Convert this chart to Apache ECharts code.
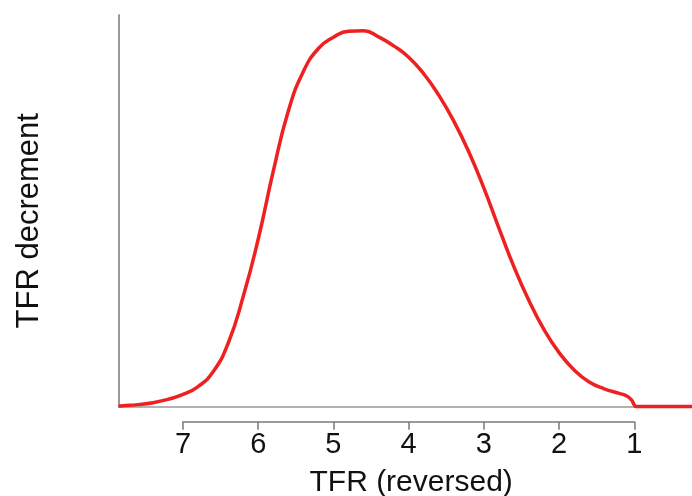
<!DOCTYPE html>
<html>
<head>
<meta charset="utf-8">
<script src="https://cdn.jsdelivr.net/npm/echarts@6/dist/echarts.min.js"></script>
<style>html,body{margin:0;padding:0;background:#fff;}#chart{width:692px;height:496px;}</style>
</head>
<body>
<div id="chart"></div>
<script>
// TFR values (descending, as plotted left to right) and relative TFR decrement (peak = 1)
var tfr = [7.858, 7.8, 7.6, 7.4, 7.2, 7.0, 6.8, 6.6, 6.4, 6.2, 6.0, 5.8, 5.6, 5.4, 5.2, 5.0, 4.8, 4.6, 4.4, 4.2, 4.0, 3.8, 3.6, 3.4, 3.2, 3.0, 2.8, 2.6, 2.4, 2.2, 2.0, 1.8, 1.6, 1.4, 1.2, 1.1, 1.04, 1.0, 0.98, 0.8, 0.6, 0.4, 0.233];
var decrement = [0.001, 0.002, 0.005, 0.010, 0.019, 0.032, 0.053, 0.092, 0.168, 0.292, 0.445, 0.625, 0.785, 0.890, 0.951, 0.981, 0.997, 0.998, 0.982, 0.958, 0.928, 0.884, 0.827, 0.758, 0.676, 0.580, 0.474, 0.371, 0.281, 0.204, 0.143, 0.097, 0.065, 0.047, 0.035, 0.028, 0.018, 0.004, 0.000, 0.000, 0.000, 0.000, 0.000];
var tickLabels = [7, 6, 5, 4, 3, 2, 1];

var data = tfr.map(function (t, i) { return [t, decrement[i]]; });
var font = 'Liberation Sans, Arial, Helvetica, sans-serif';

var chart = echarts.init(document.getElementById('chart'), null, {renderer: 'canvas'});
chart.setOption({
  animation: false,
  backgroundColor: '#ffffff',
  grid: [
    {left: 118.5, right: 0, top: 15, bottom: 89.5, outerBoundsMode: 'none', containLabel: false},
    {left: 183, right: 57.7, bottom: 74.3, height: 1, outerBoundsMode: 'none', containLabel: false}
  ],
  xAxis: [
    {
      type: 'value', gridIndex: 0, min: 0.233, max: 7.858, inverse: true,
      axisLine: {show: true, onZero: false, lineStyle: {color: '#999999', width: 1.5}},
      axisTick: {show: false}, axisLabel: {show: false}, splitLine: {show: false}
    },
    {
      type: 'value', gridIndex: 1, min: 1, max: 7, interval: 1, inverse: true,
      axisLine: {show: true, onZero: false, lineStyle: {color: '#7a7a7a', width: 1.5}},
      axisTick: {show: true, length: 8, lineStyle: {color: '#7a7a7a', width: 1.5}},
      axisLabel: {
        show: true, margin: 9, color: '#111', fontSize: 29, fontFamily: font,
        formatter: function (v) { return tickLabels.indexOf(v) >= 0 ? String(v) : ''; }
      },
      splitLine: {show: false},
      name: 'TFR (reversed)', nameLocation: 'middle', nameGap: 46,
      nameTextStyle: {color: '#111', fontSize: 30, fontFamily: font, padding: [0, 0, 0, 5]}
    }
  ],
  yAxis: [
    {
      type: 'value', gridIndex: 0, min: 0, max: 1.04,
      axisLine: {show: true, lineStyle: {color: '#999999', width: 2}},
      axisTick: {show: false}, axisLabel: {show: false}, splitLine: {show: false},
      name: 'TFR decrement', nameLocation: 'middle', nameGap: 74,
      nameTextStyle: {color: '#111', fontSize: 31, fontFamily: font, padding: [0, 20, 0, 0]}
    },
    {
      type: 'value', gridIndex: 1, show: false
    }
  ],
  series: [
    {
      type: 'line', xAxisIndex: 0, yAxisIndex: 0, data: data,
      symbol: 'none', smooth: 0.5, clip: false,
      lineStyle: {color: '#ee2020', width: 3.5}, z: 5
    }
  ]
});
</script>
</body>
</html>
